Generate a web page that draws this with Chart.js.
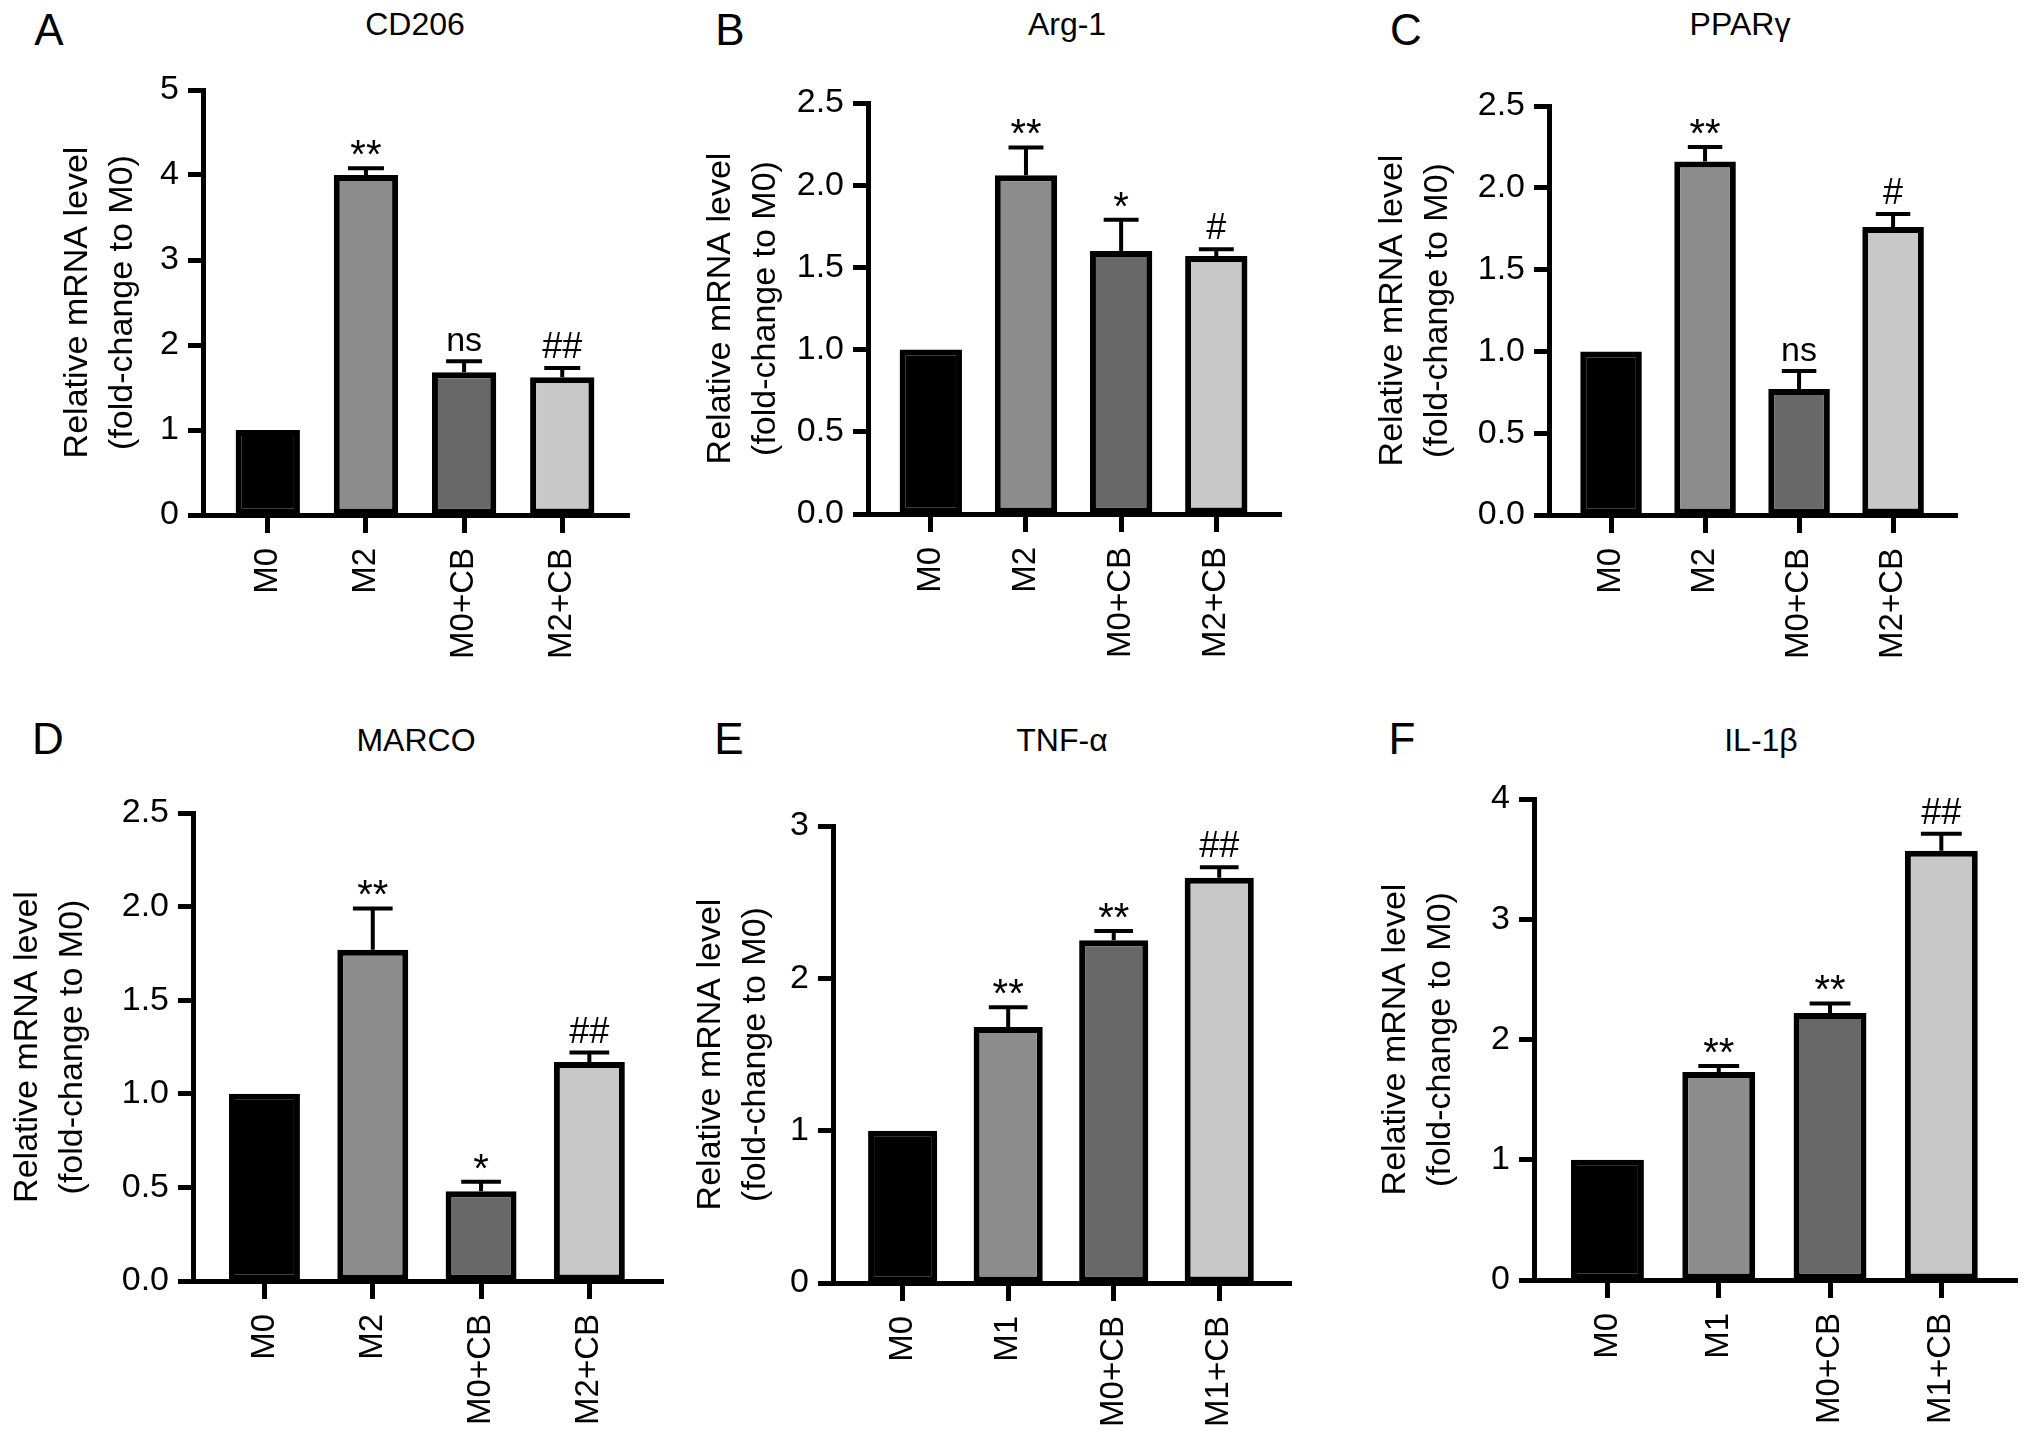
<!DOCTYPE html>
<html>
<head>
<meta charset="utf-8">
<script src="https://cdn.jsdelivr.net/npm/chart.js@4.4.0/dist/chart.umd.min.js"></script>
<style>
    html, body { margin: 0; padding: 0; background: #fff; }
    body { width: 2032px; height: 1438px; position: relative; overflow: hidden; font-family: 'Liberation Sans', Arial, sans-serif; color: #000; }
    canvas { position: absolute; }
    .letter { position: absolute; font-size: 44px; line-height: 44px; transform: translateX(-50%); }
    .title { position: absolute; font-size: 32px; line-height: 32px; transform: translateX(-50%); white-space: nowrap; }
</style>
</head>
<body>
<script>
// categories
const catsM2 = ['M0', 'M2', 'M0+CB', 'M2+CB'];
const catsM1 = ['M0', 'M1', 'M0+CB', 'M1+CB'];

// y tick values
const ticksFive = [0, 1, 2, 3, 4, 5];
const ticksHalf = [0, 0.5, 1.0, 1.5, 2.0, 2.5];
const ticksThree = [0, 1, 2, 3];
const ticksFour = [0, 1, 2, 3, 4];

// mean, SD (upper error) and significance marks per gene
const cd206Mean = [1.0, 4.0, 1.68, 1.62];
const cd206Err = [0, 0.08, 0.13, 0.11];
const cd206Sig = ['', '**', 'ns', '##'];

const arg1Mean = [1.0, 2.06, 1.60, 1.57];
const arg1Err = [0, 0.17, 0.19, 0.04];
const arg1Sig = ['', '**', '*', '#'];

const pparMean = [1.0, 2.16, 0.77, 1.76];
const pparErr = [0, 0.09, 0.11, 0.08];
const pparSig = ['', '**', 'ns', '#'];

const marcoMean = [1.0, 1.77, 0.48, 1.17];
const marcoErr = [0, 0.22, 0.05, 0.05];
const marcoSig = ['', '**', '*', '##'];

const tnfMean = [1.0, 1.68, 2.25, 2.66];
const tnfErr = [0, 0.13, 0.06, 0.07];
const tnfSig = ['', '**', '**', '##'];

const il1bMean = [1.0, 1.73, 2.22, 3.57];
const il1bErr = [0, 0.05, 0.08, 0.14];
const il1bSig = ['', '**', '**', '##'];

const yTitle = ['Relative mRNA level', '(fold-change to M0)'];
const FONT = "'Liberation Sans', Arial, sans-serif";
const barFill = ['#000000', '#8c8c8c', '#686868', '#c8c8c8'];

// L/R/T/B = plot area in page pixels, line1 = x of first y-title line
const panels = [
    { letter: 'A', title: 'CD206', cats: catsM2, mean: cd206Mean, err: cd206Err, sig: cd206Sig, ticks: ticksFive, dec: 0,
      L: 203, R: 629, T: 90, B: 515, titleX: 415, letterX: 49, line1: 78, row: 0 },
    { letter: 'B', title: 'Arg-1', cats: catsM2, mean: arg1Mean, err: arg1Err, sig: arg1Sig, ticks: ticksHalf, dec: 1,
      L: 868, R: 1281, T: 103, B: 514, titleX: 1067, letterX: 730, line1: 721, row: 0 },
    { letter: 'C', title: 'PPARγ', cats: catsM2, mean: pparMean, err: pparErr, sig: pparSig, ticks: ticksHalf, dec: 1,
      L: 1549, R: 1957, T: 106, B: 515, titleX: 1740, letterX: 1406, line1: 1393, row: 0 },
    { letter: 'D', title: 'MARCO', cats: catsM2, mean: marcoMean, err: marcoErr, sig: marcoSig, ticks: ticksHalf, dec: 1,
      L: 193, R: 663, T: 813, B: 1281, titleX: 416, letterX: 48, line1: 28, row: 1 },
    { letter: 'E', title: 'TNF-α', cats: catsM1, mean: tnfMean, err: tnfErr, sig: tnfSig, ticks: ticksThree, dec: 0,
      L: 833, R: 1291, T: 826, B: 1283, titleX: 1062, letterX: 729, line1: 711, row: 1 },
    { letter: 'F', title: 'IL-1β', cats: catsM1, mean: il1bMean, err: il1bErr, sig: il1bSig, ticks: ticksFour, dec: 0,
      L: 1534, R: 2017, T: 799, B: 1280, titleX: 1761, letterX: 1402, line1: 1396, row: 1 }
];

const Y_AXIS_W = 190;
const X_AXIS_H = 175;
const PAD_TOP = 36;
const PAD_RIGHT = 14;

// error bars + significance labels drawn from the chart scales
const errorBarPlugin = {
    id: 'errorBars',
    afterDatasetsDraw(chart, args, opts) {
        const { ctx } = chart;
        const xs = chart.scales.x;
        const ys = chart.scales.y;
        const meta = chart.getDatasetMeta(0);
        ctx.save();
        opts.mean.forEach((m, i) => {
            const bar = meta.data[i];
            const cx = xs.getPixelForValue(i);
            const yBase = ys.getPixelForValue(m);
            const yTop = ys.getPixelForValue(m + opts.err[i]);
            if (opts.err[i] > 0) {
                const half = bar.width * 0.28;
                ctx.strokeStyle = '#000';
                ctx.lineWidth = 4;
                ctx.beginPath();
                ctx.moveTo(cx, yBase);
                ctx.lineTo(cx, yTop);
                ctx.moveTo(cx - half, yTop);
                ctx.lineTo(cx + half, yTop);
                ctx.stroke();
            }
            const s = opts.sig[i];
            if (s) {
                ctx.fillStyle = '#000';
                ctx.textAlign = 'center';
                ctx.textBaseline = 'alphabetic';
                if (s.includes('*')) {
                    ctx.font = '40px ' + FONT;
                    ctx.fillText(s, cx, yTop);
                } else if (s.includes('#')) {
                    ctx.font = '36px ' + FONT;
                    ctx.fillText(s, cx, yTop - 10);
                } else {
                    ctx.font = '34px ' + FONT;
                    ctx.fillText(s, cx, yTop - 10);
                }
            }
        });
        ctx.restore();
    }
};

panels.forEach(p => {
    // panel letter and gene title
    const letter = document.createElement('div');
    letter.className = 'letter';
    letter.textContent = p.letter;
    letter.style.left = p.letterX + 'px';
    letter.style.top = (p.row === 0 ? 8 : 717) + 'px';
    document.body.appendChild(letter);

    const title = document.createElement('div');
    title.className = 'title';
    title.textContent = p.title;
    title.style.left = p.titleX + 'px';
    title.style.top = (p.row === 0 ? 8 : 724) + 'px';
    document.body.appendChild(title);

    const left = p.L - Y_AXIS_W;
    const top = p.T - PAD_TOP;
    const width = p.R + PAD_RIGHT - left;
    const height = p.B + X_AXIS_H - top;

    const canvas = document.createElement('canvas');
    canvas.width = width;
    canvas.height = height;
    canvas.style.left = left + 'px';
    canvas.style.top = top + 'px';
    canvas.style.width = width + 'px';
    canvas.style.height = height + 'px';
    document.body.appendChild(canvas);

    new Chart(canvas, {
        type: 'bar',
        data: {
            datasets: [{
                data: p.mean.map((v, i) => ({ x: i, y: v })),
                backgroundColor: barFill,
                borderColor: '#000',
                borderWidth: 6,
                borderSkipped: false,
                barPercentage: 0.655,
                categoryPercentage: 1
            }]
        },
        options: {
            responsive: false,
            animation: false,
            layout: { padding: { top: PAD_TOP, right: PAD_RIGHT, left: 0, bottom: 0 } },
            plugins: {
                legend: { display: false },
                tooltip: { enabled: false },
                errorBars: { mean: p.mean, err: p.err, sig: p.sig }
            },
            scales: {
                x: {
                    type: 'linear',
                    offset: false,
                    min: -0.66,
                    max: 3.68,
                    afterBuildTicks: s => { s.ticks = p.cats.map((c, i) => ({ value: i })); },
                    afterFit: s => { s.height = X_AXIS_H; },
                    ticks: {
                        color: '#000',
                        font: { family: FONT, size: 33 },
                        padding: 15,
                        minRotation: 90,
                        maxRotation: 90,
                        autoSkip: false,
                        callback: v => p.cats[Math.round(v)]
                    },
                    grid: { offset: false, drawOnChartArea: false, drawTicks: true, tickLength: 18, tickWidth: 5, tickColor: '#000' },
                    border: { display: true, color: '#000', width: 5 }
                },
                y: {
                    type: 'linear',
                    min: 0,
                    max: p.ticks[p.ticks.length - 1],
                    afterBuildTicks: s => { s.ticks = p.ticks.map(v => ({ value: v })); },
                    afterFit: s => { s.width = Y_AXIS_W; },
                    ticks: {
                        color: '#000',
                        font: { family: FONT, size: 34 },
                        padding: 9,
                        callback: v => Number(v).toFixed(p.dec)
                    },
                    grid: { drawOnChartArea: false, drawTicks: true, tickLength: 15, tickWidth: 5, tickColor: '#000' },
                    border: { display: true, color: '#000', width: 5 },
                    title: {
                        display: true,
                        text: yTitle,
                        color: '#000',
                        font: { family: FONT, size: 34, lineHeight: 1.3 },
                        padding: { top: p.line1 - left - 22, bottom: 0 }
                    }
                }
            }
        },
        plugins: [errorBarPlugin]
    });
});
</script>
</body>
</html>
